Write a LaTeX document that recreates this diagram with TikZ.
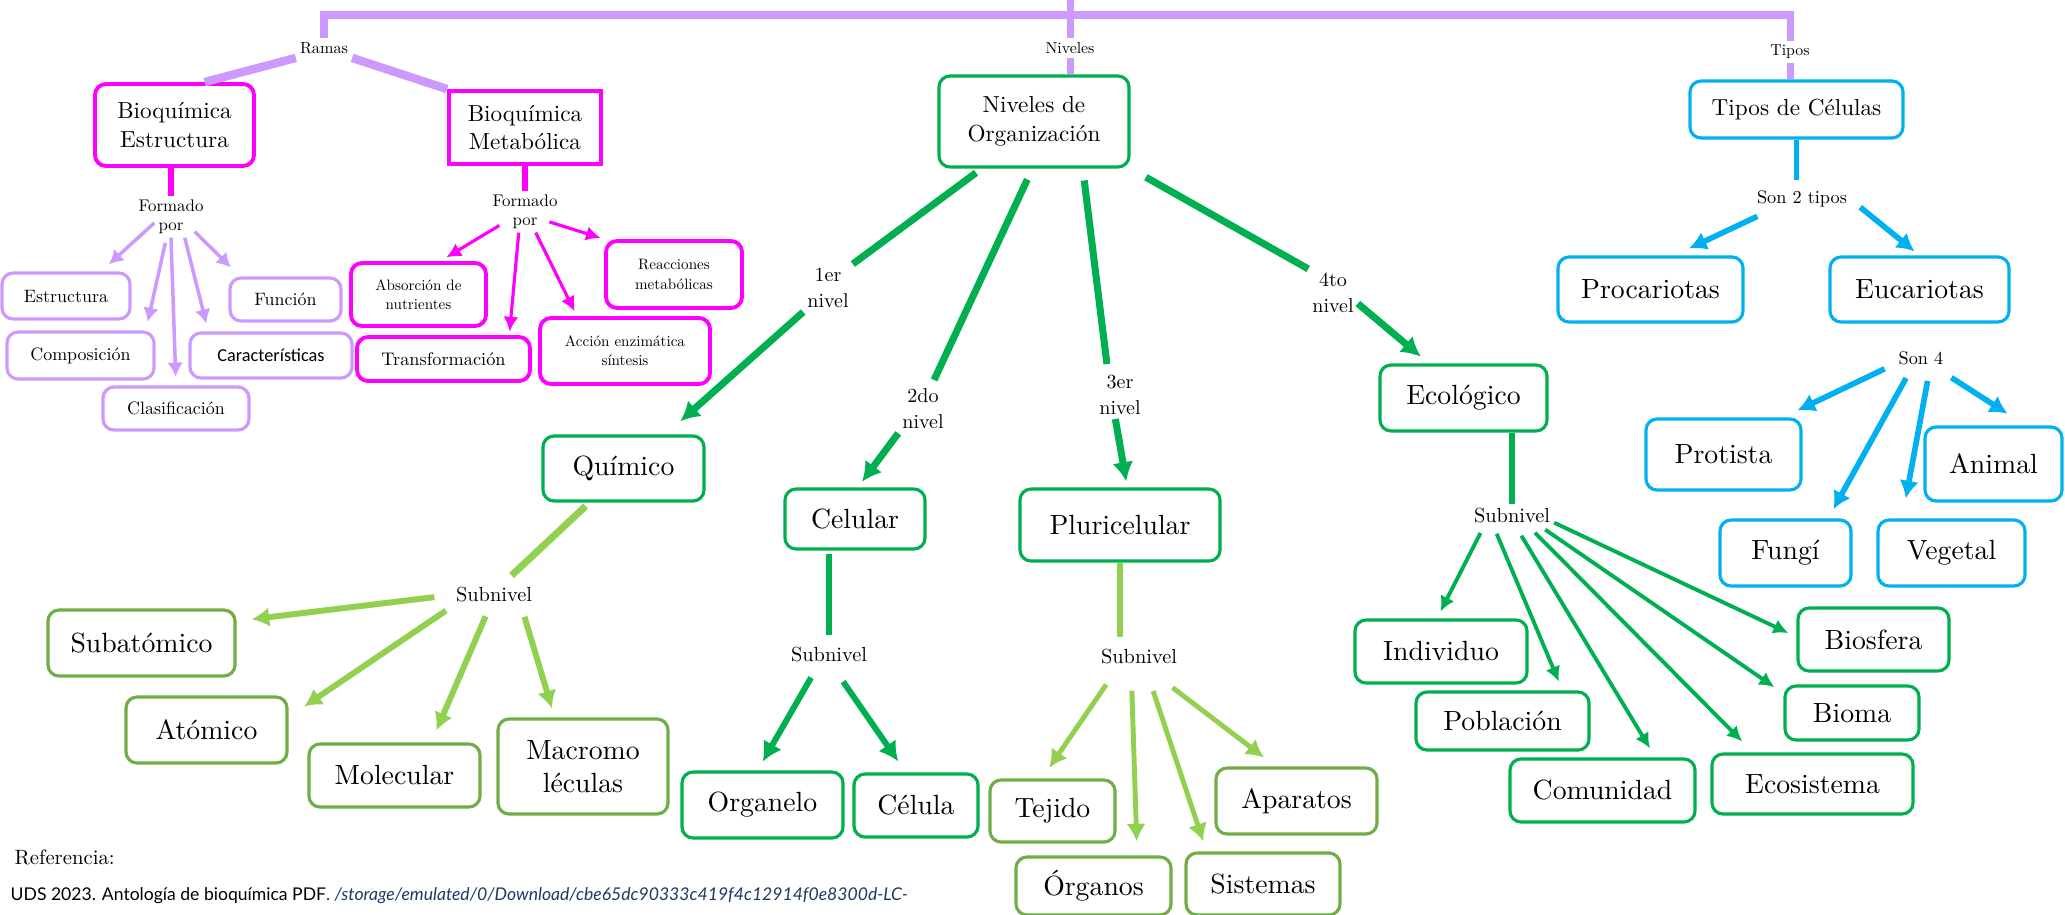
\documentclass[tikz,border=0pt]{standalone}
\usepackage{fontspec}
\setmainfont{lmroman10-regular.otf}
\newfontfamily\carlito{Carlito}
\newfontfamily\gillfont{Lato}
\usepackage{tikz}
\usetikzlibrary{arrows.meta}

\definecolor{lila}{HTML}{CC99FF}
\definecolor{fucsia}{HTML}{FF00FF}
\definecolor{verde}{HTML}{00B050}
\definecolor{verdeclaro}{HTML}{92D050}
\definecolor{verdecaja}{HTML}{70AD47}
\definecolor{celeste}{HTML}{00B0F0}
\definecolor{enlace}{HTML}{1F3864}

\newcommand{\fs}[2]{\fontsize{#1}{#2}\selectfont}

\begin{document}
\begin{tikzpicture}
      [
        x=0.1mm, y=-0.1mm,
        caja/.style={draw, rounded corners=1.1mm, line width=0.9pt, align=center, inner sep=0pt},
        medida/.style 2 args={minimum width=#1mm, minimum height=#2mm},
        etq/.style={inner sep=1pt, align=center},
        marco/.style={draw=lila, line width=2pt},
        rama/.style={draw=lila, line width=2.4pt},
        flila/.style={draw=lila, line width=1pt, -{Latex[length=4pt,width=4.5pt]}},
        lfuc/.style={draw=fucsia, line width=1.8pt},
        ffuc/.style={draw=fucsia, line width=0.9pt, -{Latex[length=4.2pt,width=4.2pt]}},
        lver/.style={draw=verde, line width=2pt},
        fver/.style={draw=verde, line width=2pt, -{Latex[length=5.5pt,width=6pt]}},
        lverc/.style={draw=verdeclaro, line width=2pt},
        fverc/.style={draw=verdeclaro, line width=1.7pt, -{Latex[length=5pt,width=5.5pt]}},
        feco/.style={draw=verde, line width=1.1pt, -{Latex[length=4.3pt,width=4.3pt]}},
        lcel/.style={draw=celeste, line width=1.6pt},
        fcel/.style={draw=celeste, line width=1.6pt, -{Latex[length=5pt,width=5.5pt]}}
      ]
      \useasboundingbox (0,0) rectangle (2065,914);
      \clip (0,0) rectangle (2065,914);
      % bracket labels
      \node [etq, font=\fs{4.6}{5.5}] (ramas) at (324,48) {Ramas};
      \node [etq, font=\fs{4.5}{5.4}] (niv) at (1070,48) {Niveles};
      \node [etq, font=\fs{4.5}{5.4}] (tipos) at (1790,52) {Tipos};
      \coordinate (esq) at (1068,15);
      \coordinate (cima) at (1068,0);
      % bioquimica
      \node [caja, draw=fucsia, line width=1.1pt, medida={15.9}{8.2}, font=\fs{6.6}{8}] (be) at (174.5,125) {Bioquímica\\Estructura};
      \node [caja, draw=fucsia, line width=1.1pt, sharp corners, medida={15.2}{7.3}, font=\fs{6.6}{8}] (bm) at (525,127.5) {Bioquímica\\Metabólica};
      \node [etq, font=\fs{4.8}{6}] (for1) at (171,206) {Formado};
      \node [etq, font=\fs{4.8}{6}] (por1) at (171,228) {por};
      \node [etq, font=\fs{4.8}{6}] (for2) at (525,201) {Formado};
      \node [etq, font=\fs{4.8}{6}] (por2) at (525,223) {por};
      \foreach \n/\x/\y/\w/\h/\t in {est/66/296/12.8/4.6/Estructura, fun/285.5/299.5/11.1/4.3/Función,
          comp/80.5/355.5/14.7/4.7/Composición, cla/176/408.5/14.6/4.3/Clasificación} {
          \node [caja, draw=lila, medida={\w}{\h}, font=\fs{5.1}{6}] (\n) at (\x,\y) {\t};
      }
      \node [caja, draw=lila, medida={16.2}{4.5}, font=\carlito\fs{5.2}{6.2}] (car) at (271,355.5) {Características};
      \foreach \n/\x/\y/\w/\h/\t in {abs/418.5/294.5/13.5/6.3/Absorción de\\nutrientes,
          rea/674/274.5/13.6/6.7/Reacciones\\metabólicas, acc/625/351/17/6.6/Acción enzimática\\síntesis} {
          \node [caja, draw=fucsia, line width=1.1pt, medida={\w}{\h}, font=\fs{4.3}{5.5}] (\n) at (\x,\y) {\t};
      }
      \node [caja, draw=fucsia, line width=1.1pt, medida={17.3}{4.4}, font=\fs{5.2}{6.2}] (tra) at (443.5,359) {Transformación};
      % niveles
      \node [caja, draw=verde, medida={19}{9.1}, font=\fs{6.6}{8.2}] (ndo) at (1034,121.5) {Niveles de\\Organización};
      \node [etq, font=\fs{5.7}{7.4}] (n1) at (828,288) {1er\\nivel};
      \node [etq, font=\fs{5.7}{7.4}] (n2) at (923,409) {2do\\nivel};
      \node [etq, font=\fs{5.7}{7.4}] (n3) at (1120,395) {3er\\nivel};
      \node [etq, font=\fs{5.7}{7.4}] (n4) at (1333,293) {4to\\nivel};
      \foreach \n/\x/\y in {sn1/494/595, sn2/829/655, sn3/1139/657, sn4/1512/516} {
          \node [etq, font=\fs{5.8}{7}] (\n) at (\x,\y) {Subnivel};
      }
      \foreach \n/\x/\y/\w/\h/\t in {qui/623.5/468.5/16.1/6.5/Químico, cel/855/519/14/6/Celular,
          plu/1120/525/20/7.2/Pluricelular, eco/1463.5/398/16.7/6.6/Ecológico,
          org/762.5/805/16.1/6.6/Organelo, celu/916/805.5/12.4/6.3/Célula,
          ind/1441/651.5/17.2/6.3/Individuo, pob/1502.5/721/17.3/5.8/Población,
          com/1602.5/790.5/18.5/6.3/Comunidad, ecos/1812.5/784/20.1/6/Ecosistema,
          bio/1852/713/13.4/5.4/Bioma, bios/1873.5/639.5/15.1/6.3/Biosfera} {
          \node [caja, draw=verde, medida={\w}{\h}, font=\fs{7.9}{9.5}] (\n) at (\x,\y) {\t};
      }
      \foreach \n/\x/\y/\w/\h/\t in {sub/141.5/643/18.7/6.6/Subatómico, ato/206.5/730/16.1/6.6/Atómico,
          mol/394.5/775.5/17.1/6.3/Molecular, mac/583/766.5/17/9.5/Macromo\\léculas,
          tej/1052.5/811/12.5/6.2/Tejido, apa/1296.5/801/16.1/6.6/Aparatos,
          orga/1093.5/886/15.5/5.8/Órganos, sis/1263/884/15.4/6.2/Sistemas} {
          \node [caja, draw=verdecaja, medida={\w}{\h}, font=\fs{7.9}{9.5}] (\n) at (\x,\y) {\t};
      }
      % tipos de celulas
      \node [caja, draw=celeste, medida={21.3}{5.7}, font=\fs{6.6}{8}] (tip) at (1796.5,109.5) {Tipos de Células};
      \node [etq, font=\fs{5.2}{6.5}] (son2) at (1802,199) {Son 2 tipos};
      \node [etq, font=\fs{5.2}{6.5}] (son4) at (1921,358) {Son 4};
      \foreach \n/\x/\y/\w/\h/\t in {pro/1650.5/289.5/18.5/6.5/Procariotas, euc/1919.5/289.5/17.9/6.5/Eucariotas,
          prot/1723.5/454.5/15.5/7.1/Protista, ani/1993.5/464/13.7/7.4/Animal,
          fung/1785.5/553/13.1/6.6/Fungí, veg/1951.5/553/14.7/6.6/Vegetal} {
          \node [caja, draw=celeste, medida={\w}{\h}, font=\fs{7.9}{9.5}] (\n) at (\x,\y) {\t};
      }
      % referencia
      \node [anchor=west, inner sep=0pt, font=\fs{5.9}{7}] (refe) at (14,857) {Referencia:};
      \node [anchor=west, inner sep=0pt, font=\gillfont\fs{5}{6}] (fuente) at (10,896)
          {UDS 2023. Antología de bioquímica PDF{\color{enlace}. \itshape /storage/emulated/0/Download/cbe65dc90333c419f4c12914f0e8300d-LC-}};
      % bracket
      \draw [marco] (ramas.north) |- (esq) -| (tipos.north);
      \draw [marco] (niv.north) -- (niv.north |- cima);
      \draw [marco] (niv.south) -- (niv.south |- ndo.north);
      \draw [marco] (tipos.south) -- (tipos.south |- tip.north);
      \draw [rama] (ramas.south west) -- (be.55);
      \draw [rama] (ramas.south east) -- (bm.north west);
      % formado por
      \draw [lfuc] (for1.north |- be.south) -- (for1.north);
      \draw [lfuc] (for2.north |- bm.south) -- (for2.north);
      \draw [flila, shorten >=3pt] (por1.163) -- (est.35);
      \draw [flila, shorten <=1.5pt, shorten >=2.5pt] (por1.245) -- (comp.21);
      \draw [flila, shorten >=2.5pt] (por1.south) -- (cla.north);
      \draw [flila, shorten >=2.3pt] (por1.325) -- (car.159);
      \draw [flila, shorten <=2.8pt, shorten >=3.7pt] (por1.11) -- (fun.153);
      \draw [ffuc, shorten <=3pt, shorten >=2pt] (por2.170) -- (abs.57);
      \draw [ffuc, shorten >=1pt] (por2.237) -- (tra.20);
      \draw [ffuc, shorten >=1.5pt] (por2.318) -- (acc.144);
      \draw [ffuc, shorten <=2.3pt, shorten >=1pt] (por2.12) -- (rea.north west);
      % niveles edges
      \draw [lver, shorten <=2pt] (ndo.222) -- (n1.north east);
      \draw [fver, shorten >=5.6pt] (n1.south west) -- (qui.39);
      \draw [lver, shorten <=3.4pt, shorten >=1.5pt] (ndo.268) -- (n2.70);
      \draw [fver, shorten >=2pt] (n2.south west) -- (cel.85);
      \draw [lver, shorten <=3.4pt, shorten >=2pt] (ndo.316) -- (n3.117);
      \draw [fver, shorten >=1.7pt] (n3.259) -- (plu.79);
      \draw [lver, shorten <=5pt] (ndo.south east) -- (n4.north west);
      \draw [fver, shorten >=3pt] (n4.337) -- (eco.135);
      % subniveles
      \draw [lverc, shorten <=1.5pt, shorten >=3.3pt] (qui.225) -- (sn1.52);
      \draw [fverc, shorten <=5pt, shorten >=4.3pt] (sn1.west) -- (sub.13);
      \draw [fverc, shorten <=2pt, shorten >=5.3pt] (sn1.south west) -- (ato.9);
      \draw [fverc, shorten <=3pt, shorten >=3.7pt] (sn1.250) -- (mol.42);
      \draw [fverc, shorten <=3pt, shorten >=2.7pt] (sn1.337) -- (mac.120);
      \draw [lver, line width=1.7pt, shorten <=1pt, shorten >=2.5pt] (sn2.north |- cel.south) -- (sn2.north);
      \draw [fver, line width=1.7pt, shorten <=3.6pt, shorten >=2.9pt] (sn2.225) -- (org.98);
      \draw [fver, line width=1.7pt, shorten <=5.2pt, shorten >=3.8pt] (sn2.288) -- (celu.107);
      \draw [lverc, line width=1.5pt, shorten >=2.5pt] (plu.south) -- (plu.south |- sn3.north);
      \draw [fverc, line width=1.4pt, shorten <=5.5pt, shorten >=3.7pt] (sn3.208) -- (tej.108);
      \draw [fverc, line width=1.4pt, shorten <=6.3pt, shorten >=4pt] (sn3.236) -- (orga.35);
      \draw [fverc, line width=1.4pt, shorten <=6.7pt, shorten >=3pt] (sn3.300) -- (sis.150);
      \draw [fverc, line width=1.4pt, shorten <=8.9pt, shorten >=4.2pt] (sn3.307) -- (apa.121);
      \draw [lver, line width=1.7pt] (sn4.north |- eco.south) -- (sn4.north);
      \draw [feco, shorten <=1.7pt, shorten >=2.2pt] (sn4.202) -- (ind.97);
      \draw [feco, shorten <=1.9pt, shorten >=2.7pt] (sn4.213) -- (pob.27);
      \draw [feco, shorten <=2.7pt, shorten >=3pt] (sn4.291) -- (com.32);
      \draw [feco, shorten <=2pt, shorten >=4.4pt] (sn4.327) -- (ecos.152);
      \draw [feco, shorten <=1pt, shorten >=3.1pt] (sn4.339) -- (bio.164);
      \draw [feco, shorten >=2.5pt] (sn4.351) -- (bios.178);
      % tipos edges
      \draw [lcel, shorten >=2pt] (tip.south) -- (tip.south |- son2.north);
      \draw [fcel, shorten <=3.3pt, shorten >=4.6pt] (son2.200) -- (pro.55);
      \draw [fcel, shorten <=3.3pt, shorten >=1.8pt] (son2.359) -- (euc.north);
      \draw [fcel, shorten <=3.1pt, shorten >=4.6pt] (son4.193) -- (prot.32);
      \draw [fcel, shorten <=3pt, shorten >=3pt] (son4.228) -- (fung.39);
      \draw [fcel, shorten <=3.5pt, shorten >=5.8pt] (son4.309) -- (veg.145);
      \draw [fcel, shorten <=4.6pt, shorten >=6.2pt] (son4.327) -- (ani.50);
\end{tikzpicture}
\end{document}
